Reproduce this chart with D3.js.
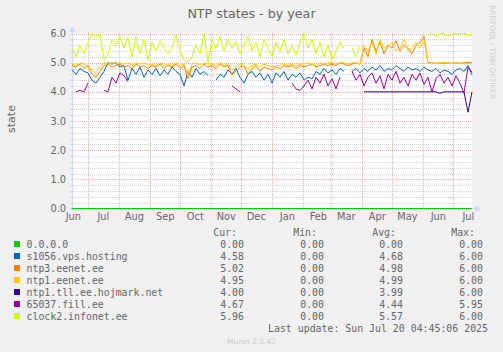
<!DOCTYPE html>
<html><head><meta charset="utf-8">
<script src="https://cdn.jsdelivr.net/npm/d3@7"></script>
<style>html,body{margin:0;padding:0;background:#f0f0f0;overflow:hidden}svg{display:block}</style>
</head><body>
<script>
// ---------- data ----------
const chartTitle = "NTP states - by year";
const yAxisLabel = "state";
const monthLabels = ["Jun","Jul","Aug","Sep","Oct","Nov","Dec","Jan","Feb","Mar","Apr","May","Jun","Jul"];
const yTickValues = [0, 1, 2, 3, 4, 5, 6];
const seriesNames = ["0.0.0.0","s1056.vps.hosting","ntp3.eenet.ee","ntp1.eenet.ee","ntp1.tll.ee.hojmark.net","65037.fill.ee","clock2.infonet.ee"];
const seriesColors = ["#00CC00","#0066B3","#FF8000","#FFCC00","#330099","#990099","#CCFF00"];
const curValues = ["0.00","4.58","5.02","4.95","4.00","4.67","5.96"];
const minValues = ["0.00","0.00","0.00","0.00","0.00","0.00","0.00"];
const avgValues = ["0.00","4.68","4.98","4.99","3.99","4.44","5.57"];
const maxValues = ["0.00","6.00","6.00","6.00","6.00","5.95","6.00"];
const lastUpdate = "Last update: Sun Jul 20 04:45:06 2025";
const startTime = Date.UTC(2024, 5, 15, 4, 45, 6);
const endTime = Date.UTC(2025, 6, 20, 4, 45, 6);
const stepDays = 4;

const green = [0,0,0,0,0,0,0,0,0,0, 0,0,0,0,0,0,0,0,0,0, 0,0,0,0,0,0,0,0,0,0, 0,0,0,0,0,0,0,0,0,0, 0,0,0,0,0,0,0,0,0,0,
  0,0,0,0,0,0,0,0,0,0, 0,0,0,0,0,0,0,0,0,0, 0,0,0,0,0,0,0,0,0,0, 0,0,0,0,0,0,0,0,0,0, 0,0,0,0,0,0,0,0,0,0, 0];
const blue = [4.75,4.6,4.8,4.7,4.65, 4.4,4.3,4.5, 4.7, 5.0,4.95,5.0, 4.85,4.9, 4.4,
  4.8,4.6,4.85,4.5,4.75, 4.6,4.8,4.55,4.75,4.6,4.85,4.7, 4.6,4.2,4.7,4.5,4.8,4.6,4.7, 4.55, null,
  4.4,4.6,4.5,4.75,4.6,4.8,4.5, 4.3,4.6,4.7,4.5,4.65,4.4,4.6, 4.3,4.65,4.5,4.7,4.4,4.6,4.5,4.65,
  4.4,4.5,4.45, 4.7,4.6,4.8,4.65,4.75,4.6,4.8,4.7, null, 4.7,4.8,4.65,
  4.8,4.7,4.85,4.75,4.9,4.7,4.8,4.75,4.9,4.8,4.7,4.85,4.75,4.8,4.7,4.85,
  4.75,4.7,4.8,4.65,4.75,4.7,4.6,4.75,4.8,4.7,4.9,4.58];
const orange = [4.9,4.85,4.95,4.8,4.9, 4.6,4.5,4.7, 4.9,4.95,4.85,4.9,4.95,
  4.85,4.9,4.8,4.95,4.85,4.9,4.8, 4.9,4.85,4.95,4.8,4.9,4.85,4.95, 4.8,4.9,4.45, 4.85,4.9,4.8,4.95,4.85,
  4.9,4.8,4.95,4.85,4.9,4.6,4.7, 4.85,4.9,4.6,4.8,4.9,4.7,4.85,4.8, 4.75,4.85,4.8,4.9,4.85,4.9,4.8,4.9,
  4.85,4.9,4.95,4.85,4.9,4.95,4.9, 4.95,4.9,5.0,4.95,4.9,4.95,5.0,4.95,
  5.5,5.2,5.8,5.4,5.7,5.3,5.6,5.5,5.75,5.4,5.6,5.5,5.3,5.6,5.7,5.9,
  5.0,5.0,4.98,5.0,4.97,5.0,4.98,5.0,4.98,5.0,5.0,5.02];
const yellow = [4.95,4.9,5.0,4.95,4.85, 4.75,4.65,4.85, 5.0,4.95,5.0,4.95,5.0,
  4.95,5.0,4.9,5.0,4.95,5.0,4.9, 4.95,4.9,5.0,4.9,4.95,4.9,5.0, 4.9,4.95,4.6, 4.95,5.0,4.9,5.0,4.95,
  4.95,4.9,5.0,4.9,4.95,4.75,4.85, 4.95,4.9,4.8,4.9,4.95,4.85,4.95,4.9, 4.85,4.9,4.9,4.95,4.9,4.95,4.9,4.95,
  4.95,5.0,4.95,4.9,5.0,4.95,5.0, 5.0,4.95,5.0,5.0,4.95,5.0,5.0,4.95,
  5.6,5.4,5.7,5.3,5.8,5.5,5.6,5.7,5.4,5.5,5.8,5.4,5.5,5.7,5.5,5.8,
  4.98,5.0,4.97,4.99,5.0,4.98,4.97,5.0,4.96,4.98,4.97,4.95];
const darkPurple = [null,null,null,null,null,null,null,null,null,null, null,null,null,null,null,null,null,null,null,null,
  null,null,null,null,null,null,null,null,null,null, null,null,null,null,null,null,null,null,null,null,
  null,null,null,null,null,null,null,null,null,null, null,null,null,null,null,null,null,null,null,null,
  null,null,null,null,null,null,null,null,null,null, null,null,null,
  4.0,4.0,4.0,4.0,4.0,4.0,4.0,4.0,4.0,4.0, 4.0,4.0,4.0,4.0,4.0,4.0,4.0,4.0,4.0, 3.95,
  4.0,4.0,4.0,4.0,4.0,4.0, 3.3, 4.0];
const purple = [null, 4.0,4.05,4.0,4.3, null,null,null, 4.05,4.0,4.5,4.3,4.65,4.55,4.35,
  null,null,null,null,null,null,null,null,null,null, null,null,null,null,null,null,null,null,null,null, null,null,null,null,null,
  4.2,4.1,4.0, null,null,null,null,null,null,null,null,null,null,null,null,
  4.3,4.1,4.05,4.2,4.4,4.1,4.5,4.3,4.6,4.2,4.45,4.1,4.5, null,null,
  4.7,4.4,4.6,4.2,4.5,4.65,4.3,4.55,4.1,4.6, 4.4,4.7,4.3,4.5,4.2,4.6,4.4,4.65,4.25,4.5,
  4.0,4.45,4.6,4.3,4.5,4.2,4.55,4.3,3.95,4.85,4.67];
const lime = [5.5,5.2,5.6,5.3,5.7, 6.0,5.9,5.95, 5.1, 5.3, 5.8,5.6,5.9,5.5,5.85,
  5.2,5.9,5.3,5.8,5.1, 5.7,5.4,5.75,5.5,5.3, 5.5,5.95, 5.4,5.1,5.0,5.2, 5.6,5.3,6.0,5.0,
  5.8,5.5,5.9,5.4,5.8,5.5,5.7,5.3, 5.6,5.9,5.4,5.7,5.2,5.8,5.5, 5.2,5.7,5.4,5.8,5.3,5.6,5.25,5.7,
  6.0, 5.5,5.8,5.3,5.7,5.2,5.6, 5.1, 5.4,5.7,5.5, null, 5.5,5.2,5.6,
  null,null,null,null,null,null,null,null,null,null,null,null,null,null,null,null,
  5.95,6.0,5.9,5.98,6.0,5.9,5.97,6.0,5.98,6.0,5.96,5.96];
const seriesValues = [green, blue, orange, yellow, darkPurple, purple, lime];

// ---------- drawing ----------
const W = 503, H = 352;
const svg = d3.select("body").append("svg").attr("width", W).attr("height", H)
  .style("background", "#f0f0f0");

const x = d3.scaleUtc().domain([new Date(startTime), new Date(endTime)]).range([72, 472]);
const y = d3.scaleLinear().domain([0, 6]).range([208.5, 33.5]);
const fontSans = "'DejaVu Sans', sans-serif";
const fontMono = "'DejaVu Sans Mono', monospace";
const textColor = "#666666";
const axisColor = "#CFD6F8";

// canvas
svg.append("rect").attr("x", 72).attr("y", 33).attr("width", 400).attr("height", 176).attr("fill", "#ffffff");

// minor horizontal grid
const minorVals = y.ticks(30).filter(v => Math.abs(v - Math.round(v)) > 1e-6);
svg.append("g").selectAll("line").data(minorVals).join("line")
  .attr("x1", 72).attr("x2", 472).attr("y1", d => Math.round(y(d)) + 0.5).attr("y2", d => Math.round(y(d)) + 0.5)
  .attr("stroke", "#d4d4d4").attr("stroke-width", 1).attr("stroke-dasharray", "1,1");
// major horizontal grid
svg.append("g").selectAll("line").data(yTickValues).join("line")
  .attr("x1", 72).attr("x2", 472).attr("y1", d => Math.round(y(d)) + 0.5).attr("y2", d => Math.round(y(d)) + 0.5)
  .attr("stroke", "#f4a6a6").attr("stroke-width", 1).attr("stroke-dasharray", "1,1");
// vertical month grid
const monthStarts = x.ticks(d3.utcMonth.every(1));
svg.append("g").selectAll("line").data(monthStarts).join("line")
  .attr("x1", d => Math.round(x(d)) + 0.5).attr("x2", d => Math.round(x(d)) + 0.5)
  .attr("y1", 33).attr("y2", 208)
  .attr("stroke", "#f4a6a6").attr("stroke-width", 1).attr("stroke-dasharray", "1,1");

// axes lines & arrows
svg.append("line").attr("x1", 72.5).attr("x2", 72.5).attr("y1", 210).attr("y2", 29).attr("stroke", axisColor);
svg.append("line").attr("x1", 70).attr("x2", 476).attr("y1", 208.5).attr("y2", 208.5).attr("stroke", axisColor);
svg.append("path").attr("d", "M69.5,32 L75.5,32 L72.5,26 Z").attr("fill", axisColor);
svg.append("path").attr("d", "M475,205.5 L475,211.5 L481,208.5 Z").attr("fill", axisColor);
// small ticks on y axis
svg.append("g").selectAll("line").data(y.ticks(30)).join("line")
  .attr("x1", 70).attr("x2", 75).attr("y1", d => Math.round(y(d)) + 0.5).attr("y2", d => Math.round(y(d)) + 0.5)
  .attr("stroke", axisColor);

// y axis labels
const yAxis = svg.append("g").attr("transform", "translate(72,0)")
  .call(d3.axisLeft(y).tickValues(yTickValues).tickFormat(d3.format(".1f")).tickSize(0).tickPadding(6));
yAxis.select(".domain").remove();
yAxis.selectAll("text").attr("fill", textColor).style("font-family", fontSans).style("font-size", "9.8px");

// x axis labels (centered in month)
const monthMids = d3.utcMonth.range(Date.UTC(2024, 5, 1), Date.UTC(2025, 7, 1)).map(d => d3.utcDay.offset(d, 15));
const xAxis = svg.append("g").attr("transform", "translate(0,208.5)")
  .call(d3.axisBottom(x).tickValues(monthMids).tickFormat((d, i) => monthLabels[i]).tickSize(0).tickPadding(5));
xAxis.select(".domain").remove();
xAxis.selectAll("text").attr("fill", textColor).style("font-family", fontSans).style("font-size", "9.8px");

// series lines
const line = d3.line().defined(d => d.v !== null && d.v !== undefined)
  .x(d => x(d.t)).y(d => y(d.v));
seriesValues.forEach((vals, k) => {
  const pts = vals.map((v, i) => ({ t: d3.utcDay.offset(new Date(startTime), i * stepDays), v }));
  svg.append("path").datum(pts).attr("d", line).attr("fill", "none")
    .attr("stroke", seriesColors[k]).attr("stroke-width", 1);
});

// title
svg.append("text").attr("x", 251.5).attr("y", 17.5).attr("text-anchor", "middle")
  .attr("fill", textColor).style("font-family", fontSans).style("font-size", "12.7px").text(chartTitle);
// y label
svg.append("text").attr("transform", "translate(15,119) rotate(-90)").attr("text-anchor", "middle")
  .attr("fill", textColor).style("font-family", fontSans).style("font-size", "11px").text(yAxisLabel);
// watermark
svg.append("text").attr("transform", "translate(490,5) rotate(90)").attr("text-anchor", "start")
  .attr("fill", "#cccccc").style("font-family", fontSans).style("font-size", "7.3px").text("RRDTOOL / TOBI OETIKER");

// legend
const legendTop = 244, rowH = 12;
const headers = [["Cur:", 237], ["Min:", 317], ["Avg:", 396], ["Max:", 475]];
svg.append("g").selectAll("text").data(headers).join("text")
  .attr("x", d => d[1]).attr("y", 232 + 3.5).attr("text-anchor", "end")
  .attr("fill", textColor).style("font-family", fontMono).style("font-size", "9.9px").text(d => d[0]);
const lg = svg.append("g");
seriesNames.forEach((name, k) => {
  const cy = legendTop + k * rowH;
  lg.append("rect").attr("x", 14).attr("y", cy - 3).attr("width", 6).attr("height", 6).attr("fill", seriesColors[k]);
  lg.append("text").attr("x", 26.5).attr("y", cy + 3.5).attr("fill", textColor)
    .style("font-family", fontMono).style("font-size", "9.9px").text(name);
  [[curValues, 244], [minValues, 324], [avgValues, 403], [maxValues, 483]].forEach(([arr, xr]) => {
    lg.append("text").attr("x", xr).attr("y", cy + 3.5).attr("text-anchor", "end").attr("fill", textColor)
      .style("font-family", fontMono).style("font-size", "9.9px").text(arr[k]);
  });
});
svg.append("text").attr("x", 488).attr("y", 328 + 3.5).attr("text-anchor", "end").attr("fill", textColor)
  .style("font-family", fontMono).style("font-size", "9.9px").text(lastUpdate);
svg.append("text").attr("x", 251.5).attr("y", 344).attr("text-anchor", "middle").attr("fill", "#cccccc")
  .style("font-family", fontSans).style("font-size", "7.5px").text("Munin 2.0.42");
</script>
</body></html>
